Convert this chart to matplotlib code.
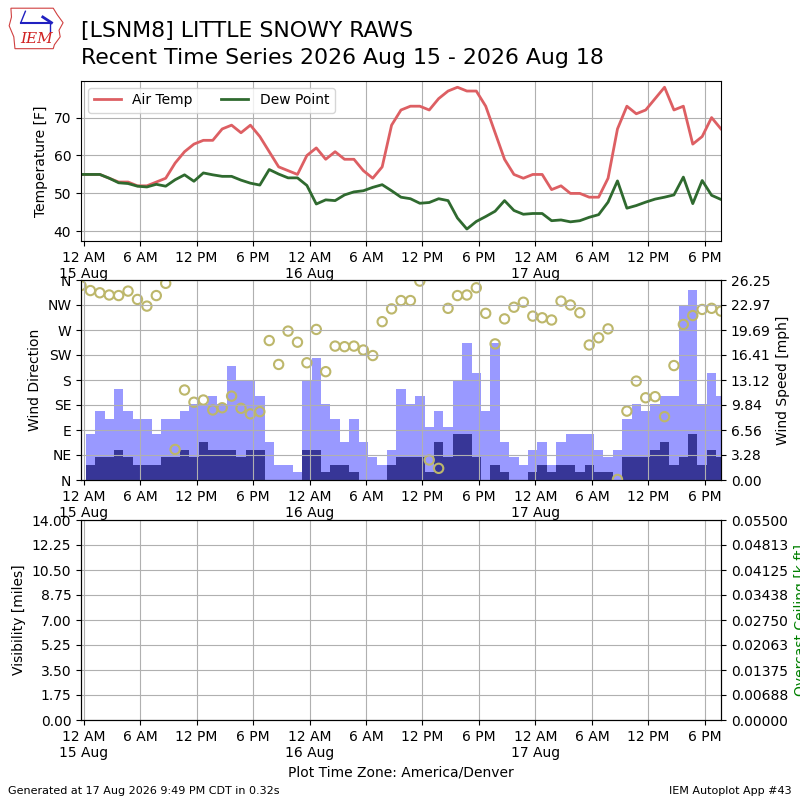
"""Recent time series panel (temperature, wind, visibility) for LSNM8."""

import matplotlib

matplotlib.use("Agg")
import matplotlib.dates as mdates
import matplotlib.pyplot as plt
import pandas as pd
from matplotlib.patches import Polygon
from matplotlib.ticker import FuncFormatter

# hourly observations, first one at 14 Aug 23:43 local time
START = "2026-08-14 23:43"

TEMP_F = [55, 55, 55, 54, 53, 53, 52, 52, 53, 54,
          58, 61, 63, 64, 64, 67, 68, 66, 68, 65,
          61, 57, 56, 55, 60, 62, 59, 61, 59, 59,
          56, 54, 57, 68, 72, 73, 73, 72, 75, 77,
          78, 77, 77, 73, 66, 59, 55, 54, 55, 55,
          51, 52, 50, 50, 49, 49, 54, 67, 73, 71,
          72, 75, 78, 72, 73, 63, 65, 70, 67]
DEWP_F = [55, 55, 55, 54, 52.8, 52.6, 51.9, 51.7, 52.4, 51.9,
          53.6, 54.9, 53.2, 55.4, 54.9, 54.5, 54.5, 53.5, 52.7, 52.2,
          56.3, 55.1, 54.1, 54.1, 52.1, 47.2, 48.3, 48.1, 49.6, 50.4,
          50.7, 51.6, 52.3, 50.7, 49.0, 48.6, 47.4, 47.6, 48.6, 48.1,
          43.5, 40.6, 42.6, 43.9, 45.3, 48.1, 45.5, 44.5, 44.7, 44.7,
          42.8, 43.0, 42.5, 42.8, 43.7, 44.4, 47.7, 53.3, 46.1, 46.8,
          47.7, 48.5, 49.0, 49.6, 54.3, 47.3, 53.4, 49.5, 48.4]
GUST_MPH = [0, 6, 9, 8, 12, 9, 8, 8, 6, 8,
            8, 9, 10, 10, 11, 10, 15, 13, 13, 11,
            5, 2, 2, 1, 13, 16, 10, 8, 5, 8,
            5, 3, 2, 4, 12, 10, 11, 7, 9, 7,
            13, 18, 14, 9, 18, 5, 3, 2, 4, 5,
            2, 5, 6, 6, 6, 4, 3, 4, 8, 10,
            9, 10, 11, 11, 23, 25, 10, 14, 11]
SPEED_MPH = [0, 2, 3, 3, 4, 3, 2, 2, 2, 3,
             3, 4, 3, 5, 4, 4, 4, 3, 4, 4,
             0, 0, 0, 0, 4, 4, 1, 2, 2, 1,
             0, 0, 0, 2, 3, 3, 3, 1, 5, 3,
             6, 6, 3, 0, 2, 1, 0, 0, 1, 2,
             1, 2, 2, 1, 2, 1, 1, 0, 3, 3,
             3, 4, 5, 2, 3, 6, 2, 4, 3]
DRCT_DEG = [350, 341, 337, 333, 332, 340, 325, 313, 332, 354,
            55, 162, 140, 144, 126, 130, 151, 129, 119, 123,
            251, 208, 268, 248, 211, 271, 195, 241, 240, 241,
            234, 224, 285, 308, 323, 323, 358, 36, 21, 309,
            332, 333, 346, 300, 245, 290, 311, 320, 295, 292,
            288, 322, 315, 301, 243, 256, 272, 1, 124, 178,
            148, 150, 114, 206, 280, 296, 307, 309, 304]

DIR_LABELS = ["N", "NE", "E", "SE", "S", "SW", "W", "NW", "N"]
CEIL_LABELS = ["0.00000", "0.00688", "0.01375", "0.02063", "0.02750",
               "0.03438", "0.04125", "0.04813", "0.05500"]

times = pd.date_range(START, periods=len(TEMP_F), freq="h")


def time_fmt(x, pos=None):
    dt = mdates.num2date(x)
    label = dt.strftime("%-I %p")
    if dt.hour == 0:
        label += "\n" + dt.strftime("%-d %b")
    return label


def style_xaxis(ax):
    ax.xaxis.set_major_locator(mdates.HourLocator(byhour=[0, 6, 12, 18]))
    ax.xaxis.set_major_formatter(FuncFormatter(time_fmt))
    ax.set_xlim(times[0], times[-1])
    ax.grid(True)


fig = plt.figure(figsize=(8, 8), dpi=100)

# --- title + logo
fig.text(81 / 800, 1 - 37 / 800, "[LSNM8] LITTLE SNOWY RAWS", fontsize=15.8, va="baseline")
fig.text(81 / 800, 1 - 64 / 800, "Recent Time Series 2026 Aug 15 - 2026 Aug 18",
         fontsize=15.8, va="baseline")
logo = fig.add_axes([8 / 800, 1 - 50 / 800, 58 / 800, 44 / 800])
logo.set_xlim(0, 1)
logo.set_ylim(0, 1)
logo.axis("off")
logo.add_patch(Polygon([(0.05, 0.95), (0.78, 0.95), (0.85, 0.8), (0.95, 0.62),
                        (0.88, 0.45), (0.9, 0.3), (0.8, 0.12), (0.78, 0.03),
                        (0.12, 0.03), (0.1, 0.3), (0.02, 0.55), (0.06, 0.75)],
                       closed=True, fill=False, edgecolor="#d04040", lw=0.8))
logo.plot([0.22, 0.75], [0.62, 0.62], color="#2020c0", lw=1.5)
logo.plot([0.22, 0.3], [0.62, 0.88], color="#2020c0", lw=1)
logo.plot([0.6, 0.75], [0.75, 0.62], color="#2020c0", lw=2)
logo.plot([0.72, 0.72], [0.62, 0.4], color="#2020c0", lw=1)
logo.text(0.5, 0.08, "IEM", color="#d02020", fontsize=11, family="DejaVu Serif",
          style="italic", ha="center", va="bottom")

# --- temperature panel
ax1 = fig.add_axes([0.10125, 0.699, 0.8, 0.2])
ax1.plot(times, TEMP_F, color="#dd5f63", lw=2, label="Air Temp")
ax1.plot(times, DEWP_F, color="#2f6a2f", lw=2, label="Dew Point")
ax1.set_ylim(37.5, 79.7)
ax1.set_ylabel("Temperature [F]")
ax1.legend(loc="upper left", ncol=2)
style_xaxis(ax1)

# --- wind panel
ax2 = fig.add_axes([0.10125, 0.4, 0.8, 0.25])
ax2b = ax2.twinx()
ax2b.bar(times, GUST_MPH, width=1 / 24.0, color="#9999ff", align="center")
ax2b.bar(times, SPEED_MPH, width=1 / 24.0, color="#373697", align="center")
ymax = max(GUST_MPH) * 1.05
ax2b.set_ylim(0, ymax)
ax2b.set_yticks([ymax * i / 8 for i in range(9)])
ax2b.yaxis.set_major_formatter(FuncFormatter(lambda v, p: "%.2f" % v))
ax2b.set_ylabel("Wind Speed [mph]")

ax2.set_zorder(ax2b.get_zorder() + 1)
ax2.patch.set_visible(False)
ax2.scatter(times, DRCT_DEG, s=45, facecolors="none", edgecolors="#bdb76b", linewidths=1.5)
ax2.set_ylim(0, 360)
ax2.set_yticks(range(0, 361, 45))
ax2.set_yticklabels(DIR_LABELS)
ax2.set_ylabel("Wind Direction")
style_xaxis(ax2)
ax2b.set_xlim(times[0], times[-1])

# --- visibility / ceiling panel
ax3 = fig.add_axes([0.10125, 0.1, 0.8, 0.25])
ax3.set_ylim(0, 14)
ax3.set_yticks([14 * i / 8 for i in range(9)])
ax3.yaxis.set_major_formatter(FuncFormatter(lambda v, p: "%.2f" % v))
ax3.set_ylabel("Visibility [miles]")
ax3.set_xlabel("Plot Time Zone: America/Denver")
style_xaxis(ax3)
ax3b = ax3.twinx()
ax3b.set_ylim(0, 0.055)
ax3b.set_yticks([0.055 * i / 8 for i in range(9)])
ax3b.set_yticklabels(CEIL_LABELS)
ax3b.set_ylabel("Overcast Ceiling [k ft]", color="g")

fig.text(0.01, 0.008, "Generated at 17 Aug 2026 9:49 PM CDT in 0.32s", fontsize=8)
fig.text(0.99, 0.008, "IEM Autoplot App #43", fontsize=8, ha="right")

fig.savefig("out.png", dpi=100)
